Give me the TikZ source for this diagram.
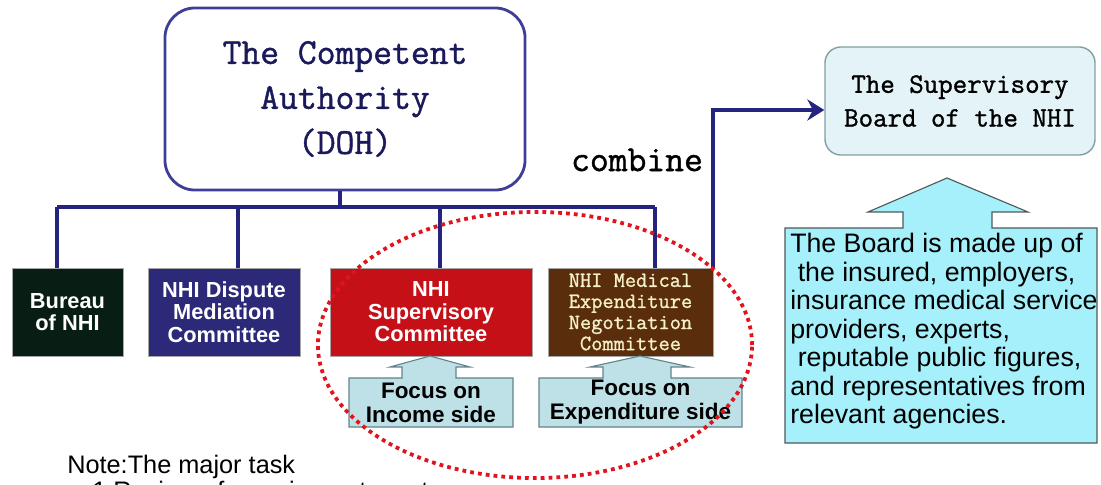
\documentclass[tikz,border=0pt]{standalone}
\usepackage{fontspec}
\setmainfont{Liberation Sans}
\newfontfamily\mincho{Latin Modern Mono}[FakeBold=1.2]
\usetikzlibrary{arrows.meta,positioning}

\definecolor{navy}{RGB}{36,36,126}
\definecolor{authline}{RGB}{62,62,150}
\definecolor{authtext}{RGB}{26,26,90}
\definecolor{bureaufill}{RGB}{8,30,20}
\definecolor{disputefill}{RGB}{44,42,120}
\definecolor{supfill}{RGB}{198,16,24}
\definecolor{medfill}{RGB}{90,45,12}
\definecolor{cream}{RGB}{245,240,200}
\definecolor{focusfill}{RGB}{190,225,232}
\definecolor{focusline}{RGB}{100,130,140}
\definecolor{boardfill}{RGB}{228,243,248}
\definecolor{boardline}{RGB}{130,160,160}
\definecolor{cyanfill}{RGB}{165,240,250}
\definecolor{calloutline}{RGB}{80,90,90}
\definecolor{dotred}{RGB}{225,20,30}

\begin{document}
\begin{tikzpicture}[x=0.025cm,y=-0.025cm,
  navyline/.style={draw=navy,line width=2.4pt},
  unitbox/.style={draw=gray!70,line width=0.6pt,text=white,align=center,
    font=\bfseries\fontsize{15.5}{16}\selectfont,minimum height=2.2cm,inner sep=0pt},
  callout/.style={fill=focusfill,draw=focusline,line width=0.8pt},
  focustext/.style={align=center,inner sep=0pt,font=\bfseries\fontsize{16}{17}\selectfont},
  reddots/.style={draw=dotred,line width=2.7pt,dash pattern=on 2.7pt off 2.9pt}]
  \useasboundingbox (0,0) rectangle (1101,485);

  % the authority and its units
  \node[rounded corners=0.75cm,draw=authline,line width=2pt,minimum width=9cm,
    minimum height=4.55cm,text=authtext,align=center,
    font=\mincho\fontsize{26}{32}\selectfont] (authority) at (345,99)
    {The Competent\\Authority\\(DOH)};
  \node[unitbox,fill=bureaufill,minimum width=2.775cm] (bureau) at (67.5,312) {Bureau\\of NHI};
  \node[unitbox,fill=disputefill,minimum width=3.8cm] (dispute) at (224,312) {NHI Dispute\\Mediation\\Committee};
  \node[unitbox,fill=supfill,minimum width=5.05cm] (supcom) at (431,312) {NHI\\Supervisory\\Committee};
  \node[unitbox,fill=medfill,minimum width=4.125cm,text=cream,
    font=\mincho\fontsize{15.5}{15}\selectfont] (medcom) at (630.5,312)
    {NHI Medical\\Expenditure\\Negotiation\\Committee};

  \coordinate (bus) at (340,207);
  \draw[navyline] (bus |- authority.south) -- (bus);
  \draw[navyline] (57,207) -- (655,207);
  \foreach \u/\x in {bureau/57,dispute/238,supcom/440,medcom/655}
    \draw[navyline] (\x,207) -- (\x,207 |- \u.north);

  % focus arrows
  \filldraw[callout] (349,427) -- (349,378) -- (402,378) -- (402,367) -- (390,367)
    -- (430,356) -- (470,367) -- (456,367) -- (456,378) -- (513,378) -- (513,427) -- cycle;
  \node[focustext] (focusin) at (431,402.5) {Focus on\\Income side};
  \filldraw[callout] (539,427) -- (539,378) -- (603,378) -- (603,367) -- (590,367)
    -- (640,356) -- (690,367) -- (671,367) -- (671,378) -- (742,378) -- (742,427) -- cycle;
  \node[focustext] (focusex) at (640.5,402.5) {Focus on\\Expenditure side};

  % supervisory board
  \node[rounded corners=0.4cm,fill=boardfill,draw=boardline,line width=1pt,
    minimum width=6.75cm,minimum height=2.7cm,align=center,
    font=\mincho\fontsize{20}{24}\selectfont] (board) at (960,101)
    {The Supervisory\\Board of the NHI};
  \node[font=\mincho\fontsize{26}{28}\selectfont] (combine) at (637,160) {combine};
  \draw[navyline,line width=2.8pt,-{Stealth[length=12pt,width=15pt]}]
    (medcom.north east) |- ([yshift=-0.225cm]board.west);

  \filldraw[fill=cyanfill,draw=calloutline,line width=0.8pt] (785,443) -- (785,228)
    -- (903,228) -- (903,212) -- (868,212) -- (947,178) -- (1028,212) -- (992,212)
    -- (992,228) -- (1097,228) -- (1097,443) -- cycle;
  \node[anchor=north west,align=left,inner sep=0pt,
    font=\fontsize{19}{20.3}\selectfont] (members) at (790,233)
    {The Board is made up of\\
     \hspace*{0.28em}the insured, employers,\\
     insurance medical service\\
     providers, experts,\\
     \hspace*{0.28em}reputable public figures,\\
     and representatives from\\
     relevant agencies.};

  % combined pair
  \draw[reddots] (535,345) ellipse [x radius=5.425cm,y radius=3.325cm];

  % note
  \node[anchor=base west,inner sep=0pt,font=\fontsize{18}{22}\selectfont] (note) at (67,473) {Note:The major task};
  \node[anchor=base west,inner sep=0pt,font=\fontsize{18}{22}\selectfont] (task) at (92,499) {1.Review of premium rates, etc.};
\end{tikzpicture}
\end{document}
